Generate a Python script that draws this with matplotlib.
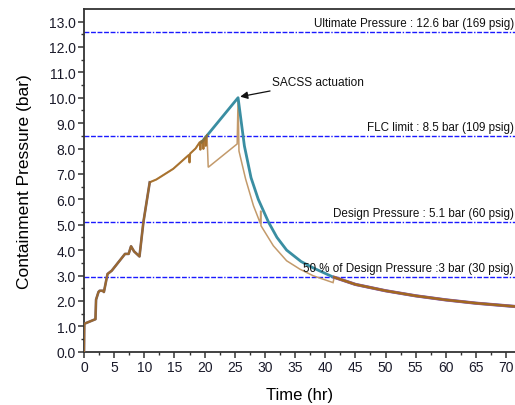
import numpy as np
import matplotlib
matplotlib.use("Agg")
import matplotlib.pyplot as plt
from matplotlib.ticker import MultipleLocator, FormatStrFormatter

# ---------------- data ----------------
early_t = [0, 0.05, 1.9, 2.0, 2.4, 2.6, 3.1, 3.3, 3.9, 4.6, 6.8, 7.4, 7.8, 8.3, 9.2,
           9.85, 10.9, 11.2, 12.0, 14.8, 17.4, 17.5, 17.6, 18.5, 19.2, 19.3, 19.4,
           19.7, 19.8, 19.9, 20.1, 20.2, 20.3, 20.4]
early_p = [0.0, 1.1, 1.28, 2.05, 2.35, 2.4, 2.4, 2.35, 3.06, 3.19, 3.85, 3.85, 4.15, 3.95, 3.75,
           5.1, 6.67, 6.7, 6.78, 7.2, 7.75, 7.45, 7.8, 8.0, 8.25, 7.95, 8.28,
           8.3, 7.98, 8.38, 8.42, 8.1, 8.48, 8.52]

teal_t = [19.5, 25.55, 26.6, 27.7, 28.9, 30.6, 32.0, 33.6, 36.0, 38.0, 41.4]
teal_p = [8.25, 10.0, 8.1, 6.85, 6.0, 5.1, 4.5, 4.0, 3.55, 3.3, 2.93]

thin_t = [20.6, 25.4, 25.55, 25.7, 26.8, 28.1, 29.25, 29.3, 29.35, 31.4, 33.6, 35.8, 38.0, 41.3, 41.5]
thin_p = [7.26, 8.18, 10.0, 7.9, 6.8, 5.75, 5.05, 5.55, 4.96, 4.17, 3.58, 3.25, 2.99, 2.72, 2.93]

late_t = [41.5, 45, 50, 55, 60, 65, 70, 72]
late_p = [2.93, 2.65, 2.4, 2.2, 2.04, 1.91, 1.81, 1.77]

ref_levels = [12.6, 8.5, 5.1, 2.93]
ref_labels = ["Ultimate Pressure : 12.6 bar (169 psig)",
              "FLC limit : 8.5 bar (109 psig)",
              "Design Pressure : 5.1 bar (60 psig)",
              "50 % of Design Pressure :3 bar (30 psig)"]

peak_time, peak_p = 25.55, 10.0
annot_text = "SACSS actuation"

# ---------------- figure ----------------
W, H = 515, 406
fig = plt.figure(figsize=(W / 100, H / 100), dpi=100)
x0, y0, x1, y1 = 84, 352.7, 515, 10
ax = fig.add_axes([x0 / W, 1 - y0 / H, (x1 - x0) / W, (y0 - y1) / H])

regular = ["Liberation Sans", "DejaVu Sans"]

c_teal = "#3a8ea2"
c_brown = "#a2681f"
c_thin = "#c39a6b"
c_purple = "#9a5aa8"

# reference lines
dash = (0, [3.5, 1.2, 3.5, 1.2, 3.5, 1.2, 3.5, 1.2, 3.5, 1.2, 1.0, 1.2])
for lv, lab in zip(ref_levels, ref_labels):
    ax.axhline(lv, color="#1a1aff", lw=1.0, linestyle=dash, zorder=1)
    ax.text(0.997, lv + 0.12, lab, ha="right", va="bottom", fontsize=8.4,
            family=regular, color="#111111", zorder=6,
            transform=ax.get_yaxis_transform())

# thin brown case
ax.plot(early_t + thin_t + late_t[1:], early_p + thin_p + late_p[1:],
        color=c_thin, lw=1.1, zorder=2, solid_joinstyle="miter")
# teal case
ax.plot(teal_t + late_t, teal_p + late_p, color=c_teal, lw=2.0, zorder=3)
# purple case (under brown)
ax.plot(late_t, late_p, color=c_purple, lw=2.3, zorder=4)
ax.plot(early_t[:17], early_p[:17], color="#7a6a78", lw=1.9, zorder=4)
# thick brown case
ax.plot(early_t, early_p, color=c_brown, lw=1.5, zorder=4.5, alpha=0.8)
ax.plot(late_t, late_p, color=c_brown, lw=1.7, zorder=5)

# annotation
ax.annotate(annot_text, xy=(peak_time + 0.35, peak_p + 0.04), xytext=(31.1, 10.62),
            fontsize=8.6, family=regular, va="center", ha="left", color="#111111",
            arrowprops=dict(arrowstyle="-|>", color="#111111", lw=0.9,
                            mutation_scale=11, shrinkA=1, shrinkB=0), zorder=7)

# axes styling
ax.set_xlim(0, (x1 - x0) / 6.03)
ax.set_ylim(0, (y0 - y1) / 25.4)
ax.xaxis.set_major_locator(MultipleLocator(5))
ax.xaxis.set_minor_locator(MultipleLocator(2.5))
ax.yaxis.set_major_locator(MultipleLocator(1))
ax.yaxis.set_minor_locator(MultipleLocator(0.5))
ax.yaxis.set_major_formatter(FormatStrFormatter("%.1f"))
for s in ["left", "bottom", "top"]:
    ax.spines[s].set_linewidth(1.3)
    ax.spines[s].set_color("#333333")
ax.spines["right"].set_visible(False)
ax.tick_params(which="major", direction="out", length=4, width=1.1, color="#333333",
               labelsize=10, labelcolor="#1a1a2a", pad=2)
ax.tick_params(which="minor", direction="out", length=2.5, width=1.0, color="#333333")
for lab in ax.get_xticklabels() + ax.get_yticklabels():
    lab.set_family(regular)

ax.set_xlabel("Time (hr)", fontsize=12, family=regular, labelpad=9)
ax.set_ylabel("Containment Pressure (bar)", fontsize=12.5, family=regular, labelpad=12)

fig.savefig("out.png", dpi=100)
